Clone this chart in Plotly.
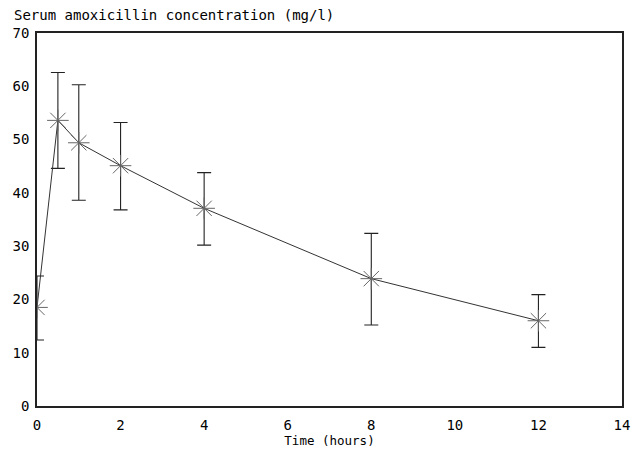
import plotly.graph_objects as go

time_h = [0, 0.5, 1, 2, 4, 8, 12]
conc = [18.5, 53.6, 49.4, 45.1, 37.1, 23.9, 16.0]
upper = [24.4, 62.6, 60.3, 53.2, 43.8, 32.4, 20.9]
lower = [12.4, 44.6, 38.6, 36.8, 30.2, 15.2, 11.0]

err_plus = [u - c for u, c in zip(upper, conc)]
err_minus = [c - l for c, l in zip(conc, lower)]

fig = go.Figure()
fig.add_trace(go.Scatter(
    x=time_h, y=conc, mode="lines+markers",
    line=dict(color="#333333", width=1),
    marker=dict(symbol="asterisk-open", size=18, color="#666666",
                line=dict(width=1, color="#666666")),
    error_y=dict(type="data", symmetric=False, array=err_plus, arrayminus=err_minus,
                 color="#222222", thickness=1.1, width=7),
    showlegend=False,
))

font_main = "DejaVu Sans Mono"
fig.update_layout(
    width=637, height=453,
    margin=dict(l=37, r=15, t=33, b=47),
    paper_bgcolor="white", plot_bgcolor="white",
    xaxis=dict(range=[0, 14], dtick=2, showgrid=False, zeroline=False, automargin=False,
               showline=True, linecolor="#222222", linewidth=1.5, mirror=True,
               ticks="", ticklabelstandoff=5,
               tickfont=dict(family=font_main, size=14, color="black"),
               title=dict(text="Time (hours)", font=dict(family=font_main, size=12.5, color="black"),
                          standoff=0)),
    yaxis=dict(range=[0, 70], dtick=10, showgrid=False, zeroline=False, automargin=False,
               showline=True, linecolor="#222222", linewidth=1.5, mirror=True,
               ticks="", ticklabelstandoff=3,
               tickfont=dict(family=font_main, size=14, color="black")),
    annotations=[dict(text="Serum amoxicillin concentration (mg/l)", xref="paper", yref="paper",
                      x=-0.043, y=1.0, xanchor="left", yanchor="bottom", showarrow=False,
                      yshift=8,
                      font=dict(family=font_main, size=14, color="black"))],
)

fig.write_html("out.html", config={"displayModeBar": False})

with open("out.html", "r", encoding="utf-8") as f:
    html = f.read()
html = html.replace("<head>", "<head><style>html,body{margin:0;padding:0;overflow:hidden;}</style>", 1)
with open("out.html", "w", encoding="utf-8") as f:
    f.write(html)
